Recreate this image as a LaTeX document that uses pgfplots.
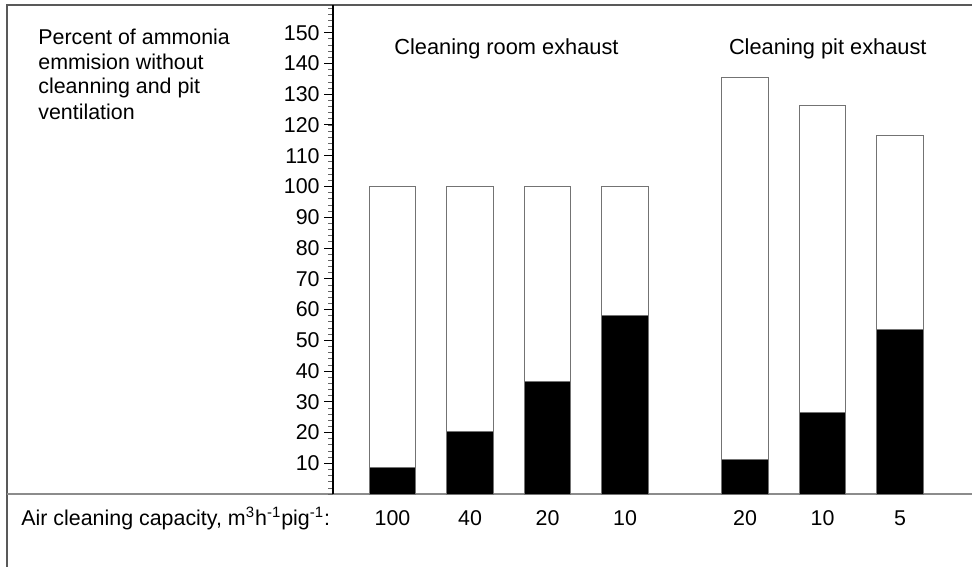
\documentclass[border=0pt]{standalone}
\usepackage{pgfplots}
\pgfplotsset{compat=1.18}
\usepackage{fontspec}
\setmainfont{Liberation Sans}
\begin{document}
\begin{tikzpicture}[font=\fontsize{10.7bp}{12.5bp}\selectfont]
\useasboundingbox (0,0) rectangle (486bp,283.5bp);
% frame and baseline
\draw[line width=0.6bp,black!65] (3.5bp,0) -- (3.5bp,281bp) -- (486bp,281bp);
\draw[line width=0.6bp,black!45] (3.5bp,36.45bp) -- (486bp,36.45bp);
\begin{axis}[
  at={(166.5bp,36.45bp)}, anchor=south west,
  x=38.75bp, y=1.538bp,
  xmin=-0.768, xmax=7.477, ymin=0, ymax=159,
  axis y line*=left, axis x line*=bottom,
  x axis line style={draw=none},
  y axis line style={line width=0.6bp,black},
  xtick={0,1,2,3,4.55,5.55,6.55},
  xticklabels={100,40,20,10,20,10,5},
  xtick style={draw=none},
  xticklabel style={anchor=base,yshift=-11bp},
  ytick={10,20,...,150},
  minor ytick={0,2,...,158},
  tick align=outside,
  major tick length=4.5bp, minor tick length=2.5bp,
  ytick style={line width=0.5bp,black},
  minor y tick style={line width=0.4bp,black!60},
  yticklabel style={anchor=east,inner sep=0pt,xshift=-2bp},
  /pgf/number format/assume math mode=true,
  ybar stacked, bar width=0.6,
  clip=false,
]
\addplot[fill=black,draw=black!55,line width=0.5bp] coordinates
  {(0,8.7) (1,20.3) (2,36.5) (3,58.0) (4.55,11.3) (5.55,26.6) (6.55,53.6)};
\addplot[fill=white,draw=black!55,line width=0.5bp] coordinates
  {(0,91.3) (1,79.7) (2,63.5) (3,42.0) (4.55,124.2) (5.55,99.7) (6.55,63.1)};
\end{axis}
\node[anchor=base west,inner sep=0pt] at (19bp,261.2bp) {Percent of ammonia};
\node[anchor=base west,inner sep=0pt] at (19bp,248.7bp) {emmision without};
\node[anchor=base west,inner sep=0pt] at (19bp,236.5bp) {cleanning and pit};
\node[anchor=base west,inner sep=0pt] at (19bp,223.9bp) {ventilation};
\node[anchor=base west,inner sep=0pt,font=\fontsize{10.9bp}{12.5bp}\selectfont] at (197bp,256.3bp) {Cleaning room exhaust};
\node[anchor=base west,inner sep=0pt,font=\fontsize{10.9bp}{12.5bp}\selectfont] at (364.3bp,256.3bp) {Cleaning pit exhaust};
\node[anchor=base west,inner sep=0pt] at (10.5bp,21bp)
  {Air cleaning capacity, m\textsuperscript{3}h\textsuperscript{-1}pig\textsuperscript{-1}:};
\end{tikzpicture}
\end{document}
